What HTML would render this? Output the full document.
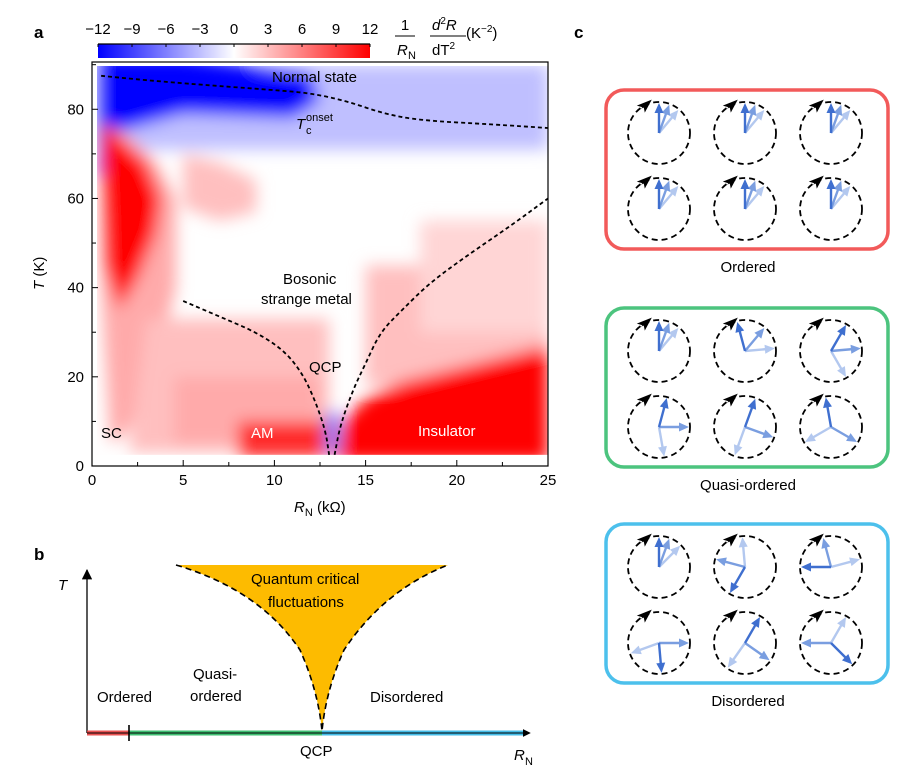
<!DOCTYPE html>
<html><head><meta charset="utf-8"><style>
body{margin:0;background:#fff;}
svg{display:block;font-family:"Liberation Sans",Arial,sans-serif;}
</style></head><body>
<svg id="fig" width="924" height="779" viewBox="0 0 924 779">
<defs>
<linearGradient id="cb" x1="0" x2="1" y1="0" y2="0">
<stop offset="0" stop-color="#0000ff"/><stop offset="0.5" stop-color="#ffffff"/><stop offset="1" stop-color="#ff0000"/>
</linearGradient>
<filter id="blur" filterUnits="userSpaceOnUse" x="60" y="30" width="520" height="460"><feGaussianBlur stdDeviation="8"/></filter>
<clipPath id="dataclip"><rect x="97" y="66" width="451" height="389"/></clipPath>
<marker id="ah" viewBox="0 0 10 10" refX="9" refY="5" markerWidth="8" markerHeight="8" orient="auto"><path d="M0,0L10,5L0,10Z" fill="#000"/></marker>
</defs>

<text x="34" y="38" font-size="17" font-weight="bold">a</text>
<text x="34" y="560" font-size="17" font-weight="bold">b</text>
<text x="574" y="38" font-size="17" font-weight="bold">c</text>

<g id="colorbar">
<rect x="98" y="44" width="272" height="14" fill="url(#cb)"/>
<line x1="98" y1="44" x2="370" y2="44" stroke="#000" stroke-width="1.2"/>
</g>
<g font-size="15">
<text x="405" y="30" text-anchor="middle">1</text>
<line x1="395" y1="36" x2="415" y2="36" stroke="#000" stroke-width="1"/>
<text x="397" y="55" font-style="italic">R</text><text x="408" y="59" font-size="11">N</text>
<text x="432" y="30"><tspan font-style="italic">d</tspan><tspan font-size="10" dy="-6">2</tspan><tspan font-style="italic" dy="6">R</tspan></text>
<line x1="430" y1="36" x2="466" y2="36" stroke="#000" stroke-width="1"/>
<text x="432" y="55">dT<tspan font-size="10" dy="-6">2</tspan></text>
<text x="466" y="38">(K<tspan font-size="10" dy="-6">−2</tspan><tspan dy="6">)</tspan></text>
</g>

<g id="heat" clip-path="url(#dataclip)"></g>
<g id="axesA"></g>
<g id="curvesA"></g>

<g font-size="15">
<text x="272" y="82">Normal state</text>
<text x="296" y="129" font-style="italic">T</text><text x="306" y="134" font-size="11">c</text><text x="306" y="121" font-size="11">onset</text>
<text x="283" y="284">Bosonic</text>
<text x="261" y="304">strange metal</text>
<text x="309" y="372">QCP</text>
<text x="101" y="438">SC</text>
<text x="251" y="438" fill="#fff">AM</text>
<text x="418" y="436" fill="#fff">Insulator</text>
</g>
<text font-size="15" transform="rotate(-90 44 290)"><tspan x="44" y="290" font-style="italic">T</tspan><tspan> (K)</tspan></text>
<text x="294" y="512" font-size="15"><tspan font-style="italic">R</tspan><tspan font-size="11" dy="4">N</tspan><tspan dy="-4"> (kΩ)</tspan></text>

<g id="panelB">
<path d="M176,565 Q260,590 300,650 Q318,690 322,731 Q326,690 344,650 Q384,590 448,565 Z" fill="#fdbb00"/>
<path d="M176,565 Q260,590 300,650 Q318,690 322,731 Q326,690 344,650 Q384,590 448,565" fill="none" stroke="#000" stroke-width="1.6" stroke-dasharray="6,4"/>
<line x1="87" y1="733" x2="87" y2="570" stroke="#000" stroke-width="1.3" marker-end="url(#ah)"/>
<line x1="87" y1="733" x2="129" y2="733" stroke="#e84040" stroke-width="5" opacity="0.9"/>
<line x1="129" y1="733" x2="322" y2="733" stroke="#3fbf72" stroke-width="5"/>
<line x1="322" y1="733" x2="524" y2="733" stroke="#45bde9" stroke-width="5"/>
<line x1="87" y1="733" x2="530" y2="733" stroke="#000" stroke-width="1" marker-end="url(#ah)"/>
<line x1="129" y1="725" x2="129" y2="741" stroke="#000" stroke-width="1.6"/>
<g font-size="15">
<text x="58" y="590" font-style="italic">T</text>
<text x="251" y="584">Quantum critical</text>
<text x="268" y="607">fluctuations</text>
<text x="97" y="702">Ordered</text>
<text x="193" y="679">Quasi-</text>
<text x="190" y="701">ordered</text>
<text x="370" y="702">Disordered</text>
<text x="300" y="756">QCP</text>
<text x="514" y="760" font-style="italic">R</text><text x="525" y="765" font-size="11">N</text>
</g>
</g>

<g id="panelC"></g>
</svg>
<script>
// ---------- Panel a data ----------
const xTicks = [0,5,10,15,20,25];
const yTicks = [0,20,40,60,80];
const cbTicks = [-12,-9,-6,-3,0,3,6,9,12];
const topBoundaryR = [0.5,3,6,10,12,14,16,18,22,25];
const topBoundaryT = [87.5,86.5,85.5,84.3,83.6,81.8,79,77.5,76.6,75.8];
const leftBoundaryR = [5,7,9,10.5,11.5,12.2,12.8,13.0];
const leftBoundaryT = [37,33.5,30,26,21,15,8,2.5];
const rightBoundaryR = [13.3,13.6,14.3,15,15.8,17,18.5,20.5,23,25];
const rightBoundaryT = [2.5,9,17,23,30,35,41,47,54,60];
// heatmap regions (R,T polygons) with signed value
const regionValues = [-3,-12,-12,4,12,3,4,10,3,3,2,12,-6];
const regionR = [
 [0,25,25,0],
 [0.3,5,12,12.5,11,5,1.5,0.3],
 [0.3,1.2,1.2,0.3],
 [0.5,2,3.5,4.6,4.6,4,3,2,1,0.5],
 [0.5,1.5,3,3.8,3.5,2.5,1.5,0.7],
 [3,13,13,2],
 [4.5,12.5,12.5,4.5],
 [8,13,13,8],
 [5,7,9,9,7,5],
 [15,25,25,15],
 [18,25,25,18],
 [13.3,13.8,15,17,20,25,25,13.3],
 [12.8,13.6,13.6,12.8]
];
const regionT = [
 [90,90,71,71],
 [92,92,88,82,78,79,75,72],
 [78,78,65,65],
 [77,74,68,60,40,30,20,8,5,40],
 [77,74,68,60,52,42,35,45],
 [33,33,3,3],
 [20,20,5,5],
 [10,10,2,2],
 [70,68,64,57,55,58],
 [45,45,18,18],
 [55,55,30,30],
 [1,10,15,19,22,27,1,1],
 [12,12,3,3]
];
const colorbarMin=-12, colorbarMax=12;

const X0=92, X1=548, Y0=466, Y1=62, Rmax=25, Tmax=90.6;
const xs = r => X0 + (r/Rmax)*(X1-X0);
const ys = t => Y0 - (t/Tmax)*(Y0-Y1);
const cbx = v => 98 + (v-colorbarMin)/(colorbarMax-colorbarMin)*272;
const NS='http://www.w3.org/2000/svg';
function mk(tag, attrs, parent){const e=document.createElementNS(NS,tag);for(const k in attrs)e.setAttribute(k,attrs[k]);parent.appendChild(e);return e;}
function colorFor(v){const a=Math.min(1,Math.abs(v)/12);const c=Math.round(255*(1-a));if(v<0){return `rgb(${c},${c},255)`;}return `rgb(255,${c},${c})`;}

const heat=document.getElementById('heat');
mk('rect',{x:97,y:66,width:451,height:389,fill:'#fff'},heat);
const hb=mk('g',{filter:'url(#blur)'},heat);
regionValues.forEach((v,i)=>{
 const pts=regionR[i].map((r,j)=>xs(r)+','+ys(regionT[i][j])).join(' ');
 const p=mk('polygon',{points:pts,fill:colorFor(v)},hb);
 
 
});
mk('rect',{x:92,y:ys(2.5),width:460,height:20,fill:'#fff'},heat);

// axes
const ax=document.getElementById('axesA');
const frame=mk('rect',{x:X0,y:Y1,width:X1-X0,height:Y0-Y1,fill:'none',stroke:'#000','stroke-width':1.2},ax);


for(let r=0;r<=Rmax;r+=2.5){mk('line',{x1:xs(r),y1:Y0,x2:xs(r),y2:Y0-(r%5===0?6:4),stroke:'#000'},ax);}
for(let t=0;t<=90;t+=10){mk('line',{x1:X0,y1:ys(t),x2:X0+(t%20===0?6:4),y2:ys(t),stroke:'#000'},ax);}
xTicks.forEach(v=>{const t=mk('text',{x:xs(v),y:485,'font-size':15,'text-anchor':'middle'},ax);t.textContent=v;
 
 });
yTicks.forEach(v=>{const t=mk('text',{x:84,y:ys(v)+5,'font-size':15,'text-anchor':'end'},ax);t.textContent=v;
 
 });
cbTicks.forEach(v=>{const t=mk('text',{x:cbx(v),y:34,'font-size':15,'text-anchor':'middle'},ax);t.textContent=(v<0?'−'+(-v):v);
 
 
 mk('line',{x1:cbx(v),y1:44,x2:cbx(v),y2:47,stroke:'#000'},ax);});

// boundaries
const cv=document.getElementById('curvesA');
function smooth(R,T){const p=R.map((r,i)=>[xs(r),ys(T[i])]);let d='M'+p[0];for(let i=1;i<p.length;i++){const a=p[i-1],b=p[i];const mx=(a[0]+b[0])/2,my=(a[1]+b[1])/2;d+=' Q'+a+' '+mx+','+my;}d+=' L'+p[p.length-1];return d;}
[[topBoundaryR,topBoundaryT,'tc-onset-boundary'],[leftBoundaryR,leftBoundaryT,'left-qcp-boundary'],[rightBoundaryR,rightBoundaryT,'right-qcp-boundary']].forEach(b=>{
 const p=mk('path',{d:smooth(b[0],b[1]),fill:'none',stroke:'#000','stroke-width':1.8,'stroke-dasharray':'4,3'},cv);
 
 
});

// ---------- Panel c ----------
const boxNames=['Ordered','Quasi-ordered','Disordered'];
const boxColors=['#f25a5a','#4cc47e','#4cc0ec'];
const boxY=[90,308,524];
const arrowAngles=[
 [[0,20,40],[0,20,40],[0,20,40],[0,20,40],[0,20,40],[0,20,40]],
 [[0,20,40],[-15,40,85],[30,85,150],[15,90,170],[20,110,200],[-10,120,240]],
 [[0,20,45],[210,285,355],[270,345,75],[175,90,250],[30,125,215],[135,270,30]]
];
const pc=document.getElementById('panelC');
const arrowCols=['#3f6fcf','#7a9ee0','#b3c8ef'];
boxNames.forEach((nm,b)=>{
 const g=mk('g',{},pc);
 
 
 const by=boxY[b];
 mk('rect',{x:606,y:by,width:282,height:159,rx:18,fill:'none',stroke:boxColors[b],'stroke-width':3.5},g);
 const lb=mk('text',{x:748,y:by+182,'font-size':15,'text-anchor':'middle'},g);lb.textContent=nm;
 for(let k=0;k<6;k++){
  const cx=659+(k%3)*86, cy=by+43+Math.floor(k/3)*76, R=31;
  mk('circle',{cx:cx,cy:cy,r:R,fill:'none',stroke:'#000','stroke-width':1.8,'stroke-dasharray':'6,4'},g);
  const hx=cx-R*Math.sin(0.55), hy=cy-R*Math.cos(0.55);
  mk('path',{d:`M${hx-2},${hy+2} L${hx+9},${hy-7} L${hx+2},${hy+6} L${hx+1},${hy+1} Z`,fill:'#000'},g);
  mk('path',{d:`M${hx-6},${hy-1} L${hx+9},${hy-7} L${hx+1},${hy+1} Z`,fill:'#000'},g);
  [2,1,0].forEach(j=>{
   const a=arrowAngles[b][k][j]*Math.PI/180;
   const ex=cx+(R-1)*Math.sin(a), ey=cy-(R-1)*Math.cos(a);
   const ux=Math.sin(a), uy=-Math.cos(a);
   mk('line',{x1:cx,y1:cy,x2:ex-ux*7,y2:ey-uy*7,stroke:arrowCols[j],'stroke-width':2.4},g);
   const px=-uy, py=ux;
   mk('polygon',{points:`${ex},${ey} ${ex-ux*10+px*4.5},${ey-uy*10+py*4.5} ${ex-ux*10-px*4.5},${ey-uy*10-py*4.5}`,fill:arrowCols[j]},g);
  });
 }
});
</script>
</body></html>
